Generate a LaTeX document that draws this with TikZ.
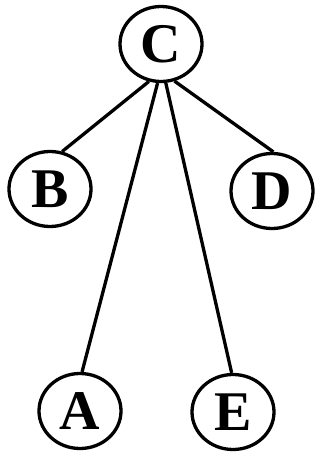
\documentclass[tikz,border=0pt]{standalone}
\usepackage{fontspec}
\setmainfont{Liberation Serif}
\usepackage{tikz}
\usetikzlibrary{shapes.geometric}

\begin{document}
\begin{tikzpicture}[x=1pt,y=-1pt]
		\tikzset{ring/.style={draw,ellipse,line width=3.3pt,minimum width=82pt,minimum height=75pt,inner sep=0pt,font=\fontsize{56}{56}\selectfont\bfseries}}
		\useasboundingbox (0,0) rectangle (327,462);
		\node[ring] (C) at (161,44) {C};
		\node[ring] (B) at (50,189) {B};
		\node[ring] (D) at (272,191) {D};
		\node[ring] (A) at (80,411) {A};
		\node[ring] (E) at (233,412) {E};
		\draw[line width=3.3pt] (C.252)--(B.72);
		\draw[line width=3.3pt] (C.265)--(A.87);
		\draw[line width=3.3pt] (C.277)--(E.92);
		\draw[line width=3.3pt] (C.290)--(D.88);
\end{tikzpicture}
\end{document}
